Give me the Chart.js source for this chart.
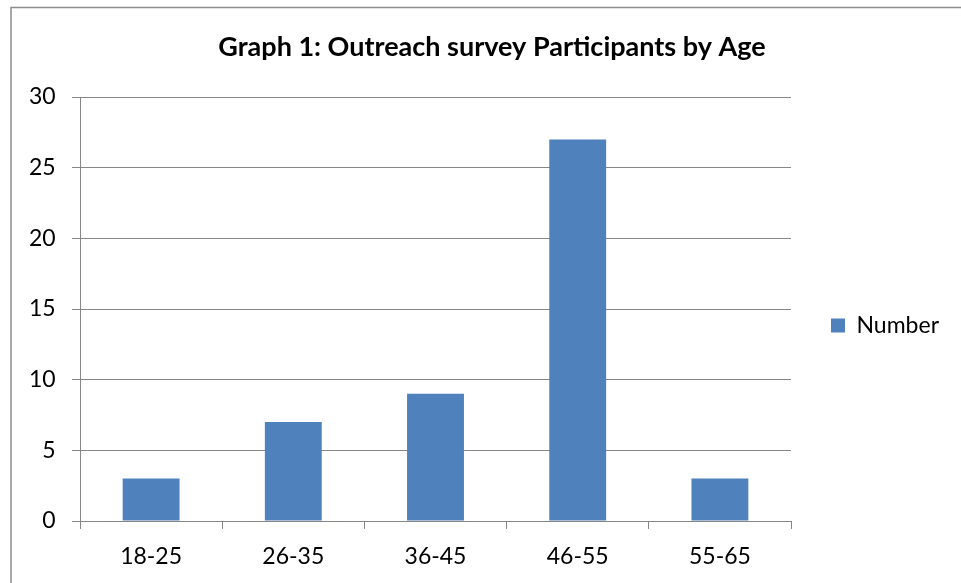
<!DOCTYPE html>
<html>
<head>
<meta charset="utf-8">
<title>Graph 1: Outreach survey Participants by Age</title>
<script src="https://cdn.jsdelivr.net/npm/chart.js@4/dist/chart.umd.min.js"></script>
<style>
  html, body { margin: 0; padding: 0; background: #ffffff; }
  #wrap { position: relative; width: 961px; height: 583px; }
  canvas { display: block; }
</style>
</head>
<body>
<div id="wrap"><canvas id="chart" width="961" height="583"></canvas></div>
<script>
// Survey participants per age band
const ageBands = ['18-25', '26-35', '36-45', '46-55', '55-65'];
const participants = [3, 7, 9, 27, 3];
const seriesName = 'Number';
const chartTitle = 'Graph 1: Outreach survey Participants by Age';
const yTickValues = [0, 5, 10, 15, 20, 25, 30];

const GRID = '#868686';
const BAR = '#4F81BD';
const FONT = 'Lato, "Open Sans", "Liberation Sans", sans-serif';

// Frame around the chart object (left and top edges fall inside the page)
const framePlugin = {
  id: 'frame',
  beforeDraw(chart) {
    const ctx = chart.ctx;
    ctx.save();
    ctx.fillStyle = '#ffffff';
    ctx.fillRect(0, 0, chart.width, chart.height);
    ctx.strokeStyle = '#8c8c8c';
    ctx.lineWidth = 1.5;
    ctx.beginPath();
    ctx.moveTo(11, chart.height + 2);
    ctx.lineTo(11, 7.5);
    ctx.lineTo(chart.width + 2, 7.5);
    ctx.stroke();
    ctx.restore();
  }
};

new Chart(document.getElementById('chart'), {
  type: 'bar',
  data: {
    labels: ageBands,
    datasets: [{
      label: seriesName,
      data: participants,
      backgroundColor: BAR,
      borderWidth: 0,
      barPercentage: 0.4,
      categoryPercentage: 1.0
    }]
  },
  options: {
    responsive: false,
    animation: false,
    devicePixelRatio: 1,
    layout: { padding: { left: 35, right: 12, top: 0, bottom: 0 } },
    plugins: {
      title: {
        display: true,
        text: chartTitle,
        color: '#000000',
        font: { family: FONT, size: 27, weight: 'bold', lineHeight: 1.2 },
        padding: { top: 31.5, bottom: 33.1 }
      },
      legend: {
        display: true,
        position: 'right',
        fullSize: false,
        title: { display: true, text: '', font: { size: 12, lineHeight: 1.2 }, padding: { top: 0, bottom: 18.6 } },
        labels: {
          color: '#000000',
          font: { family: FONT, size: 23 },
          boxWidth: 14,
          boxHeight: 14,
          padding: 40
        }
      },
      tooltip: { enabled: false }
    },
    scales: {
      x: {
        grid: {
          display: true,
          drawOnChartArea: false,
          drawTicks: true,
          tickLength: 8,
          color: GRID,
          lineWidth: 1
        },
        border: { display: true, color: GRID, width: 1 },
        ticks: {
          color: '#000000',
          font: { family: FONT, size: 23 },
          padding: 14,
          maxRotation: 0
        },
        afterFit(scale) { scale.height = 62; }
      },
      y: {
        min: 0,
        max: 30,
        grid: {
          color: GRID,
          lineWidth: 1,
          drawTicks: true,
          tickLength: 8
        },
        border: { display: true, color: GRID, width: 1 },
        ticks: {
          stepSize: 5,
          color: '#000000',
          font: { family: FONT, size: 23 },
          // labels sit left of the axis, right-aligned at x≈54
          mirror: true,
          crossAlign: 'far',
          padding: -51,
          callback: (v) => yTickValues.includes(v) ? String(v) : null
        },
        afterFit(scale) { scale.width = 45; }
      }
    }
  },
  plugins: [framePlugin]
});
</script>
</body>
</html>
